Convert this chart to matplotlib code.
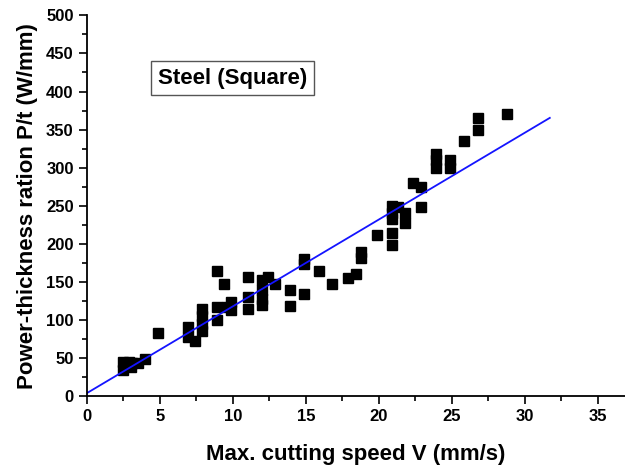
import numpy as np
import matplotlib.pyplot as plt
from matplotlib.ticker import MultipleLocator

plt.rcParams['font.family'] = ['Liberation Sans', 'DejaVu Sans']
plt.rcParams['font.weight'] = 'bold'

speed = [2.5, 2.5, 2.6, 2.9, 3.0, 3.1, 3.5, 4.0, 4.9, 6.9, 6.9, 7.4,
         7.9, 7.9, 7.9, 7.9, 8.9, 8.9, 8.9, 9.4, 9.6, 9.9, 9.9,
         11.0, 11.0, 11.0, 12.0, 12.0, 12.0, 12.0, 12.4, 12.9,
         13.9, 13.9, 14.9, 14.9, 14.9, 15.9, 16.8, 17.9, 18.4,
         18.8, 18.8, 19.9, 20.9, 20.9, 20.9, 20.9, 20.9, 21.3,
         21.8, 21.8, 22.3, 22.9, 22.9, 23.9, 23.9, 23.9, 24.9, 24.9,
         25.8, 26.8, 26.8, 28.8]
ratio = [35, 45, 40, 45, 38, 44, 43, 49, 83, 91, 78, 73,
         85, 95, 105, 115, 164, 117, 100, 147, 117, 123, 113,
         156, 130, 114, 152, 140, 128, 120, 157, 147,
         139, 118, 180, 173, 134, 164, 147, 155, 160,
         189, 181, 211, 250, 240, 232, 214, 199, 248,
         240, 227, 280, 274, 249, 318, 310, 300, 310, 300,
         335, 365, 350, 370]

# fitted line
fit_x = [0, 31.7]
fit_y = [4, 4 + 11.4 * 31.7]

fig = plt.figure(figsize=(6.25, 4.65), dpi=100)
ax = fig.add_axes([0.139, 0.148, 0.861, 0.819])

ax.plot(speed, ratio, 's', color='black', markersize=6.5, linestyle='none')
ax.plot(fit_x, fit_y, color='#1414ff', linewidth=1.3)

ax.set_xlim(0, 36.85)
ax.set_ylim(0, 500)
ax.xaxis.set_major_locator(MultipleLocator(5))
ax.xaxis.set_minor_locator(MultipleLocator(2.5))
ax.yaxis.set_major_locator(MultipleLocator(50))
ax.yaxis.set_minor_locator(MultipleLocator(25))

ax.spines['top'].set_visible(False)
ax.spines['right'].set_visible(False)
ax.spines['left'].set_linewidth(1.3)
ax.spines['bottom'].set_linewidth(1.3)
ax.tick_params(which='major', direction='out', length=6, width=1.2, labelsize=12)
ax.tick_params(which='minor', direction='out', length=3.5, width=1.2)
for lab in ax.get_xticklabels() + ax.get_yticklabels():
    lab.set_fontweight('bold')

ax.set_xlabel('Max. cutting speed V (mm/s)', fontsize=16, fontweight='bold', labelpad=14)
ax.set_ylabel('Power-thickness ration P/t (W/mm)', fontsize=16, fontweight='bold', labelpad=6)

ax.text(0.271, 0.835, 'Steel (Square)', transform=ax.transAxes, fontsize=16,
        fontweight='bold', va='center', ha='center',
        bbox=dict(boxstyle='square,pad=0.3', facecolor='white', edgecolor='#555555', linewidth=1))

fig.savefig('out.png', dpi=100)
